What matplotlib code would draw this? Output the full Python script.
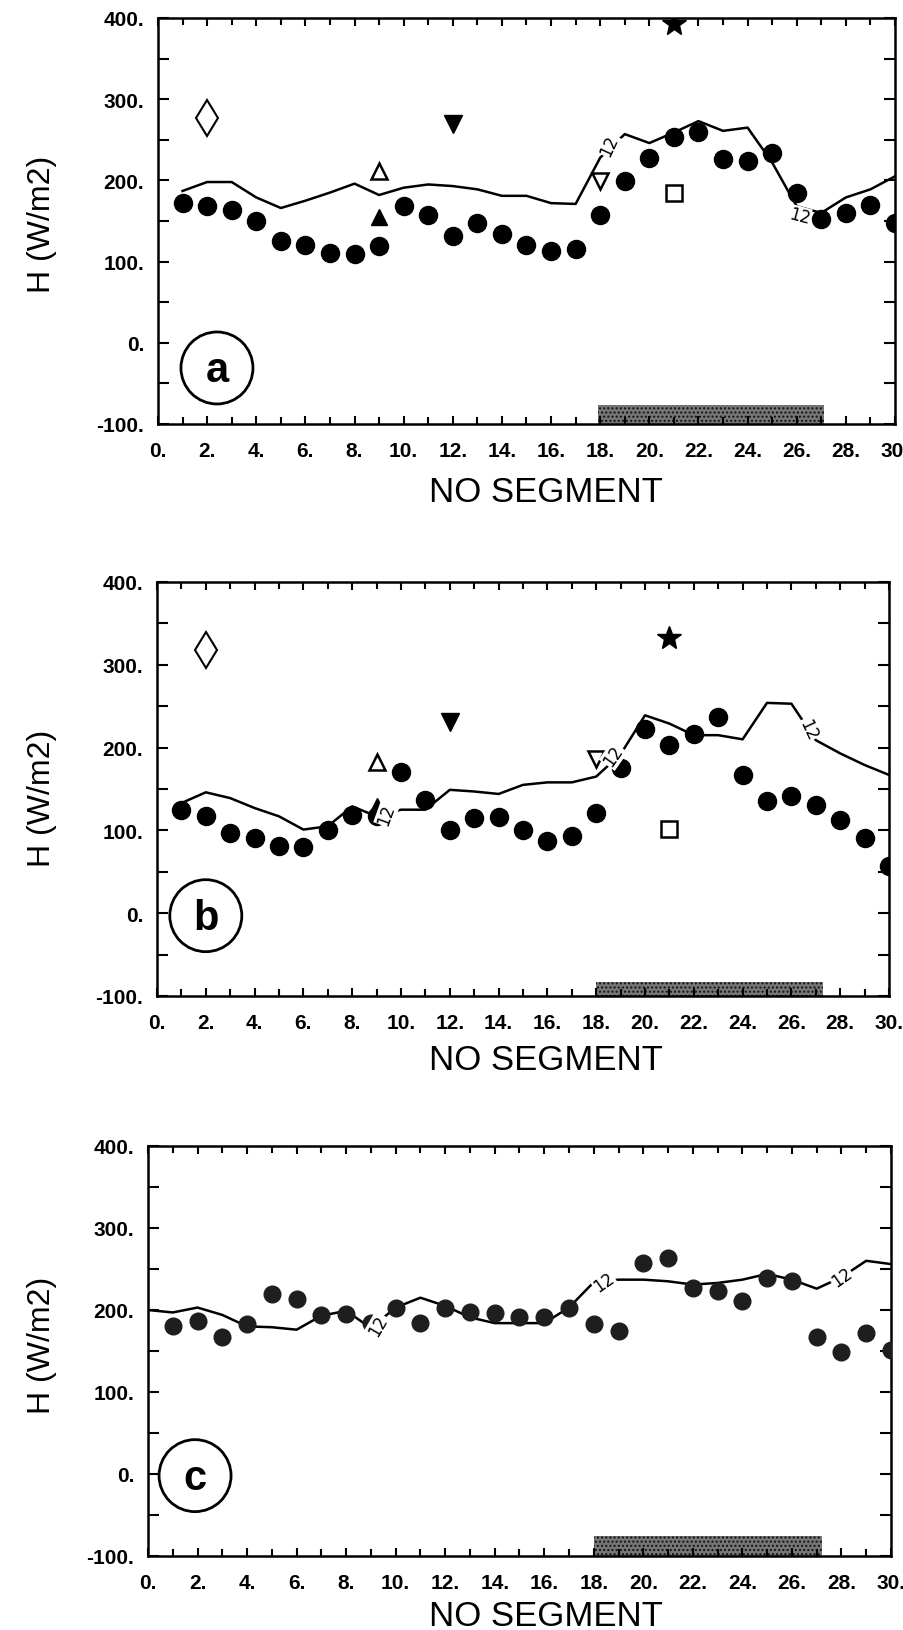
import numpy as np
import matplotlib
matplotlib.use("Agg")
import matplotlib.pyplot as plt
from matplotlib.patches import Ellipse
from matplotlib.ticker import MultipleLocator, FuncFormatter

# segment numbers
seg = np.arange(1, 31)

# panel a : measured flux (dots) and model curve
h_a = [172, 168, 164, 150, 125, 121, 111, 109, 119, 168, 158, 131, 147, 134, 120,
       113, 115, 158, 199, 228, 254, 259, 226, 224, 234, 185, 152, 160, 170, 148]
curve_a = [187, 198, 198, 179, 166, 175, 185, 196, 182, 191, 195, 193, 189, 181, 181,
           172, 171, 228, 257, 246, 259, 273, 261, 265, 222, 168, 160, 179, 189, 205]

# panel b
h_b = [125, 117, 97, 91, 81, 80, 101, 118, 117, 171, 137, 101, 115, 116, 101,
       87, 93, 121, 175, 223, 203, 217, 237, 167, 135, 141, 131, 113, 91, 57]
curve_b = [133, 146, 139, 127, 117, 101, 105, 129, 117, 125, 125, 149, 147, 144, 155,
           158, 158, 165, 192, 239, 229, 215, 215, 210, 254, 253, 209, 193, 179, 167]

# panel c (curve starts at segment 0)
h_c = [181, 186, 167, 183, 219, 213, 194, 195, 184, 203, 184, 202, 197, 196, 191,
       191, 203, 183, 175, 257, 263, 227, 223, 211, 239, 235, 167, 149, 172, 151]
seg_c = np.arange(0, 31)
curve_c = [200, 197, 203, 194, 180, 179, 176, 193, 199, 178, 203, 215, 205, 191, 184,
           184, 184, 203, 234, 237, 237, 235, 231, 233, 237, 244, 237, 226, 240, 260, 256]

# single estimates from other methods: (segment, value)
diamond_a, tri_open_a, tri_fill_a = (2, 277), (9, 211), (9, 155)
tdown_fill_a, tdown_open_a = (12, 269), (18, 199)
star_a, square_a = (21, 392), (21, 185)

diamond_b, tri_open_b, tri_fill_b = (2, 318), (9, 183), (9, 129)
tdown_fill_b, tdown_open_b = (12, 231), (18, 186)
star_b, square_b = (21, 332), (21, 102)

# "12" contour labels on the curves: (x, y, angle)
lab_a = [(18.35, 243, 65), (26.1, 156, -15)]
lab_b = [(9.4, 119, 70), (18.7, 190, 55), (26.7, 222, -65)]
lab_c = [(9.3, 181, 60), (18.4, 234, 35), (28.0, 240, 35)]

# hatched band along the bottom (segments)
band_a = (17.9, 27.1, -77)
band_b = (18.0, 27.3, -83)
band_c = (18.0, 27.2, -76)

W, H = 904, 1631
fig = plt.figure(figsize=(W / 100, H / 100), dpi=100)


def px_axes(l, t, r, b):
    return fig.add_axes([l / W, 1 - b / H, (r - l) / W, (b - t) / H])


def setup(ax):
    ax.set_xlim(0, 30)
    ax.set_ylim(-100, 400)
    ax.xaxis.set_major_locator(MultipleLocator(2))
    ax.xaxis.set_minor_locator(MultipleLocator(1))
    ax.yaxis.set_major_locator(MultipleLocator(100))
    ax.yaxis.set_minor_locator(MultipleLocator(50))
    fmt = FuncFormatter(lambda v, p: "%d." % round(v))
    ax.xaxis.set_major_formatter(fmt)
    ax.yaxis.set_major_formatter(fmt)
    ax.tick_params(which="both", direction="in", top=True, right=True, width=1.5)
    ax.tick_params(axis="x", which="major", length=6, pad=12)
    ax.tick_params(axis="x", which="minor", length=5)
    ax.tick_params(axis="y", which="both", length=8, pad=10)
    for lbl in ax.get_xticklabels() + ax.get_yticklabels():
        lbl.set_fontfamily("Liberation Sans")
        lbl.set_fontweight("bold")
        lbl.set_fontsize(15)
    for s in ax.spines.values():
        s.set_linewidth(1.8)


def band(ax, b):
    x0, x1, ytop = b
    ax.fill_between([x0, x1], -100, ytop, facecolor="#777777", edgecolor="#111111",
                    hatch="....", linewidth=0, zorder=1)


def tag(ax, letter, cx, cy):
    pos = ax.get_position()
    wpx, hpx = pos.width * W, pos.height * H
    d = 72
    ax.add_patch(Ellipse((cx, cy), d / wpx * 30, d / hpx * 500, facecolor="none",
                         edgecolor="black", linewidth=2, zorder=5))
    ax.text(cx, cy - 3, letter, ha="center", va="center", family="Liberation Sans",
            weight="bold", fontsize=30, zorder=5)


def contour_labels(ax, labs):
    for x, y, ang in labs:
        ax.text(x, y, "12", rotation=ang, ha="center", va="center", fontsize=12,
                family="DejaVu Sans", zorder=4,
                bbox=dict(boxstyle="square,pad=0.05", fc="white", ec="none"))


def extras(ax, dia, tro, trf, tdf, tdo, star, sq):
    ax.plot(*dia, marker="d", ms=18, mfc="white", mec="black", mew=1.5, zorder=3)
    ax.plot(*tro, marker="^", ms=12, mfc="white", mec="black", mew=1.8, zorder=3)
    ax.plot(*trf, marker="^", ms=12, color="black", zorder=3)
    ax.plot(*tdf, marker="v", ms=13, color="black", zorder=3)
    ax.plot(*tdo, marker="v", ms=12, mfc="white", mec="black", mew=1.8, zorder=3)
    ax.plot(*star, marker="*", ms=18, color="black", zorder=3)
    ax.plot(*sq, marker="s", ms=12, mfc="white", mec="black", mew=1.8, zorder=3)


def labels(ax, ylab_y, xlab_y):
    fig.text(42 / W, 1 - ylab_y / H, "H (W/m2)", rotation=90, ha="center",
             va="center", family="Liberation Sans", fontsize=23)
    fig.text(546 / W, 1 - xlab_y / H, "NO SEGMENT", ha="center", va="center",
             family="Liberation Sans", fontsize=25)


# panel a
ax1 = px_axes(158, 19, 895, 425)
ax1.plot(seg, curve_a, color="black", lw=1.8, zorder=2)
ax1.plot(seg, h_a, "o", color="black", ms=13, zorder=3)
extras(ax1, diamond_a, tri_open_a, tri_fill_a, tdown_fill_a, tdown_open_a, star_a, square_a)
contour_labels(ax1, lab_a)
band(ax1, band_a)
setup(ax1)
tag(ax1, "a", 2.4, -31)
labels(ax1, 224, 492)

# panel b
ax2 = px_axes(157, 583, 889, 997)
ax2.plot(seg, curve_b, color="black", lw=1.8, zorder=2)
ax2.plot(seg, h_b, "o", color="black", ms=13, zorder=3)
extras(ax2, diamond_b, tri_open_b, tri_fill_b, tdown_fill_b, tdown_open_b, star_b, square_b)
contour_labels(ax2, lab_b)
band(ax2, band_b)
setup(ax2)
tag(ax2, "b", 2.0, -3)
labels(ax2, 798, 1061)

# panel c
ax3 = px_axes(148, 1147, 891, 1557)
ax3.plot(seg_c, curve_c, color="black", lw=1.8, zorder=2)
ax3.plot(seg, h_c, "o", color="#1e1e1e", ms=12, zorder=3)
contour_labels(ax3, lab_c)
band(ax3, band_c)
setup(ax3)
tag(ax3, "c", 1.9, -2)
labels(ax3, 1345, 1617)

fig.savefig("out.png", dpi=100)
